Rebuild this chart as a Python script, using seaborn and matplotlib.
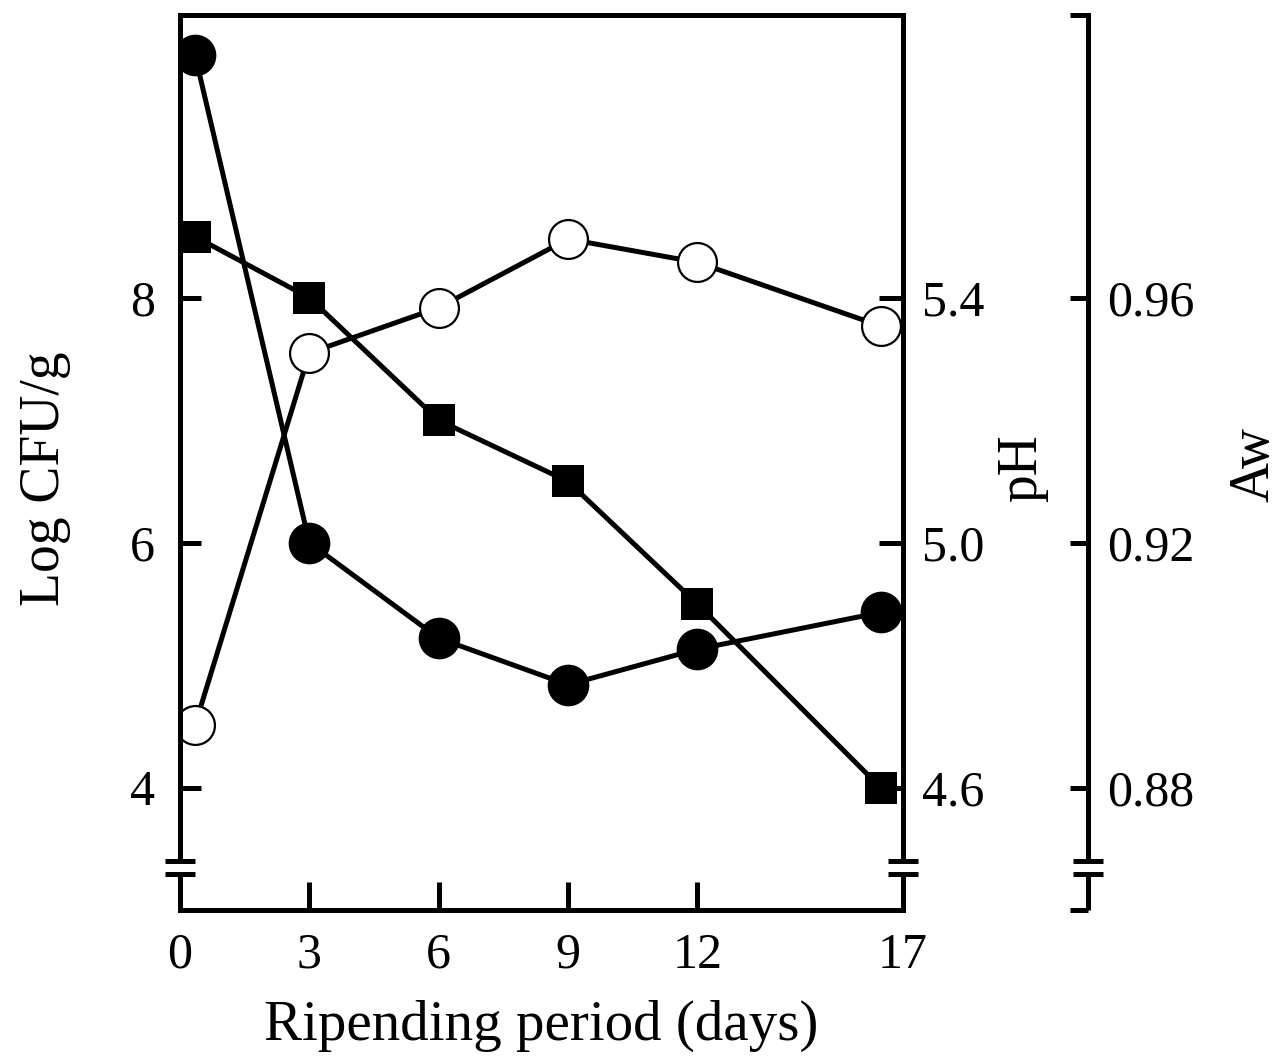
import matplotlib
matplotlib.use("Agg")
import matplotlib.pyplot as plt
import seaborn as sns

# x: ripening days (tick labels) and where they sit on the drawn scale
day_labels = ["0", "3", "6", "9", "12", "17"]
day_tick_x = [0, 3, 6, 9, 12, 16.77]
day_mark_x = [0.35, 3, 6, 9, 12, 16.25]

# series
filled_circle_log = [9.98, 6.00, 5.22, 4.84, 5.13, 5.43]
open_circle_log = [4.51, 7.55, 7.92, 8.48, 8.29, 7.77]
square_ph = [5.50, 5.40, 5.20, 5.10, 4.90, 4.60]

log_ticks = [4, 6, 8]
ph_ticks = [4.6, 5.0, 5.4]
aw_ticks = [0.88, 0.92, 0.96]
log_lim = (3.0, 10.31)
break_lo, break_hi = 3.29, 3.40


def to_ph(v):
    return 4.6 + (v - 4) * 0.2


def to_aw(v):
    return 0.88 + (v - 4) * 0.02


sns.set_style("ticks")
plt.rcParams['font.family'] = ['Liberation Serif', 'DejaVu Serif']
for key in ("text.color", "axes.labelcolor", "xtick.color", "ytick.color",
            "axes.edgecolor"):
    plt.rcParams[key] = "black"
LW = 3.6

fig = plt.figure(figsize=(12.79, 10.60), dpi=100)
ax = fig.add_axes([180 / 1279, 1 - 910 / 1060, 723 / 1279, 895 / 1060])
ax2 = ax.twinx()
ax3 = ax.twinx()
ax.set_zorder(ax2.get_zorder() + 1)
ax.patch.set_visible(False)

# pH squares
sns.lineplot(x=day_mark_x, y=square_ph, ax=ax2, color="black", lw=LW,
             marker="s", markersize=23, markeredgewidth=0, markerfacecolor="black")
# filled circles
sns.lineplot(x=day_mark_x, y=filled_circle_log, ax=ax, color="black", lw=LW,
             marker="o", markersize=30, markeredgewidth=0, markerfacecolor="black")
# open circles
sns.lineplot(x=day_mark_x, y=open_circle_log, ax=ax, color="black", lw=LW,
             marker="o", markersize=28, markeredgewidth=1.6,
             markerfacecolor="white", markeredgecolor="black")

ax.set_xlim(0, 16.77)
ax.set_ylim(*log_lim)
ax2.set_ylim(to_ph(log_lim[0]), to_ph(log_lim[1]))
ax3.set_ylim(to_aw(log_lim[0]), to_aw(log_lim[1]))

ax.set_xticks(day_tick_x)
ax.set_xticklabels(day_labels)
ax.set_yticks(log_ticks)
ax.set_yticklabels([str(t) for t in log_ticks])
ax2.set_yticks(ph_ticks)
ax2.set_yticklabels([f"{t:.1f}" for t in ph_ticks])
ax3.set_yticks(aw_ticks)
ax3.set_yticklabels([f"{t:.2f}" for t in aw_ticks])

ax.tick_params(axis="x", direction="in", length=20, width=LW, pad=16, labelsize=36)
ax.tick_params(axis="y", direction="in", length=15, width=LW, pad=18, labelsize=36)
ax2.tick_params(axis="y", direction="in", length=17, width=LW, pad=14, labelsize=36)
ax3.tick_params(axis="y", direction="in", length=13, width=LW, pad=14, labelsize=36)

# spines
for s in ax.spines.values():
    s.set_linewidth(LW)
ax.spines["right"].set_visible(False)
ax.spines["left"].set_bounds(break_hi, log_lim[1])
for a in (ax2, ax3):
    for name, s in a.spines.items():
        s.set_visible(name == "right")
        s.set_linewidth(LW)
ax2.spines["right"].set_bounds(to_ph(break_hi), to_ph(log_lim[1]))
ax3.spines["right"].set_position(("axes", 1.256))
ax3.spines["right"].set_bounds(to_aw(break_hi), to_aw(log_lim[1]))

# broken-axis marks and lower stubs
tr = ax.get_yaxis_transform()
kw = dict(transform=tr, clip_on=False, color="black", lw=LW, solid_capstyle="butt")
for x0 in (0, 1, 1.256):
    ax.plot([x0, x0], [log_lim[0], break_lo], **kw)
    for yb in (break_lo, break_hi):
        ax.plot([x0 - 0.021, x0 + 0.021], [yb, yb], **kw)
# caps on the Aw spine
for yc in (log_lim[0], log_lim[1]):
    ax.plot([1.231, 1.256], [yc, yc], **kw)

ax.set_xlabel("Ripending period (days)", fontsize=41)
ax.xaxis.set_label_coords(0.5, -0.1)
ax.xaxis.label.set_va("top")
ax.set_ylabel("")
ax2.set_ylabel("")
fig.text(45 / 1279, 1 - 479 / 1060, "Log CFU/g", rotation=90, ha="center",
         va="center", fontsize=40)
fig.text(1022 / 1279, 1 - 468 / 1060, "pH", rotation=90, ha="center",
         va="center", fontsize=40)
fig.text(1254 / 1279, 1 - 465 / 1060, "Aw", rotation=90, ha="center",
         va="center", fontsize=40)

fig.savefig("out.png", dpi=100)
